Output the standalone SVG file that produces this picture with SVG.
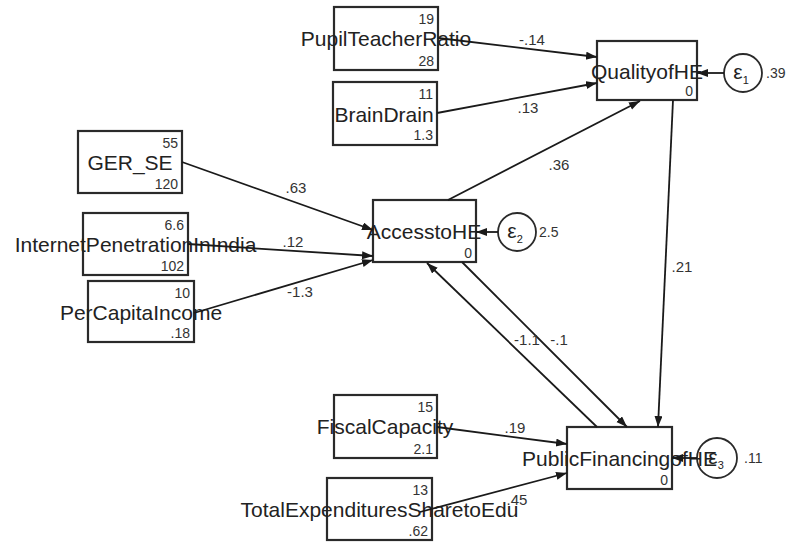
<svg xmlns="http://www.w3.org/2000/svg" width="792" height="542" viewBox="0 0 792 542">
<defs>
<marker id="ah" markerUnits="userSpaceOnUse" markerWidth="12" markerHeight="10" refX="11" refY="4" orient="auto">
<path d="M0,0 L11,4 L0,8 z" fill="#1a1a1a"/>
</marker>
<style>
.box{fill:none;stroke:#2a2a2a;stroke-width:2.2}
.err{fill:none;stroke:#2a2a2a;stroke-width:1.8}
.lbl{font-family:"Liberation Sans",Arial,sans-serif;font-size:21px;fill:#222;text-anchor:middle}
.num{font-family:"Liberation Sans",Arial,sans-serif;font-size:14px;fill:#333;text-anchor:end}
.coef{font-family:"Liberation Sans",Arial,sans-serif;font-size:15px;fill:#333;text-anchor:middle}
.eps{font-family:"Liberation Sans",Arial,sans-serif;font-size:21px;fill:#222;text-anchor:middle}
.sub{font-size:11px}
.var{font-family:"Liberation Sans",Arial,sans-serif;font-size:14px;fill:#333}
.path{fill:none;stroke:#1a1a1a;stroke-width:1.8;marker-end:url(#ah)}
</style>
</defs>
<rect width="792" height="542" fill="#fff"/>

<g id="PupilTeacherRatio">
<rect class="box" x="334" y="7" width="104" height="63"/>
<text class="lbl" x="386" y="46">PupilTeacherRatio</text>
<text class="num" x="434" y="24">19</text>
<text class="num" x="434" y="66">28</text>
</g>
<g id="BrainDrain">
<rect class="box" x="333" y="82" width="104" height="63"/>
<text class="lbl" x="384" y="122">BrainDrain</text>
<text class="num" x="433" y="99">11</text>
<text class="num" x="433" y="140">1.3</text>
</g>
<g id="QualityofHE">
<rect class="box" x="597" y="41" width="100" height="59"/>
<text class="lbl" x="647" y="79">QualityofHE</text>
<text class="num" x="693" y="96">0</text>
</g>
<g id="GER_SE">
<rect class="box" x="78" y="131" width="104" height="62"/>
<text class="lbl" x="130" y="170">GER_SE</text>
<text class="num" x="178" y="148">55</text>
<text class="num" x="178" y="189">120</text>
</g>
<g id="InternetPenetrationInIndia">
<rect class="box" x="83" y="213" width="105" height="62"/>
<text class="lbl" x="135.5" y="252">InternetPenetrationInIndia</text>
<text class="num" x="184" y="230">6.6</text>
<text class="num" x="184" y="271">102</text>
</g>
<g id="PerCapitaIncome">
<rect class="box" x="88" y="281" width="106" height="61"/>
<text class="lbl" x="141" y="320">PerCapitaIncome</text>
<text class="num" x="190" y="298">10</text>
<text class="num" x="190" y="338">.18</text>
</g>
<g id="AccesstoHE">
<rect class="box" x="373" y="200" width="103" height="62"/>
<text class="lbl" x="424" y="239">AccesstoHE</text>
<text class="num" x="472" y="258">0</text>
</g>
<g id="FiscalCapacity">
<rect class="box" x="334" y="395" width="103" height="63"/>
<text class="lbl" x="385" y="434">FiscalCapacity</text>
<text class="num" x="433" y="412">15</text>
<text class="num" x="433" y="454">2.1</text>
</g>
<g id="TotalExpendituresSharetoEdu">
<rect class="box" x="327" y="478" width="105" height="62"/>
<text class="lbl" x="379.5" y="517">TotalExpendituresSharetoEdu</text>
<text class="num" x="428" y="495">13</text>
<text class="num" x="428" y="536">.62</text>
</g>
<g id="PublicFinancingofHE">
<rect class="box" x="567" y="427" width="105" height="62"/>
<text class="lbl" x="619.5" y="466">PublicFinancingofHE</text>
<text class="num" x="668" y="485">0</text>
</g>

<g id="e1">
<circle class="err" cx="743" cy="73" r="19"/>
<text class="eps" x="741" y="79">ε<tspan class="sub" dy="5">1</tspan></text>
<text class="var" x="766" y="78">.39</text>
</g>
<g id="e2">
<circle class="err" cx="517" cy="232" r="19"/>
<text class="eps" x="515" y="238">ε<tspan class="sub" dy="5">2</tspan></text>
<text class="var" x="539" y="237">2.5</text>
</g>
<g id="e3">
<circle class="err" cx="717" cy="458" r="20"/>
<text class="eps" x="716" y="464">ε<tspan class="sub" dy="5">3</tspan></text>
<text class="var" x="744" y="463">.11</text>
</g>

<g id="connectors">
<line class="path" x1="724" y1="73" x2="697" y2="73"/>
<line class="path" x1="498" y1="232" x2="476" y2="232"/>
<line class="path" x1="697" y1="458" x2="672" y2="458"/>
<line class="path" x1="438" y1="38" x2="597" y2="57"/>
<line class="path" x1="437" y1="113" x2="597" y2="83"/>
<line class="path" x1="182" y1="162" x2="373" y2="230"/>
<line class="path" x1="188" y1="244" x2="373" y2="256"/>
<line class="path" x1="194" y1="313" x2="373" y2="260"/>
<line class="path" x1="448" y1="200" x2="640" y2="101"/>
<line class="path" x1="673" y1="100" x2="658" y2="427"/>
<line class="path" x1="597" y1="427" x2="427" y2="263"/>
<line class="path" x1="462" y1="262" x2="627" y2="427"/>
<line class="path" x1="437" y1="427" x2="567" y2="444"/>
<line class="path" x1="420" y1="512" x2="567" y2="473"/>
<text class="coef" x="532" y="45">-.14</text>
<text class="coef" x="528" y="113">.13</text>
<text class="coef" x="296" y="193">.63</text>
<text class="coef" x="293" y="247">.12</text>
<text class="coef" x="300" y="297">-1.3</text>
<text class="coef" x="559" y="170">.36</text>
<text class="coef" x="682" y="272">.21</text>
<text class="coef" x="527" y="345">-1.1</text>
<text class="coef" x="559" y="345">-.1</text>
<text class="coef" x="515" y="433">.19</text>
<text class="coef" x="517" y="505">.45</text>
</g>
</svg>
